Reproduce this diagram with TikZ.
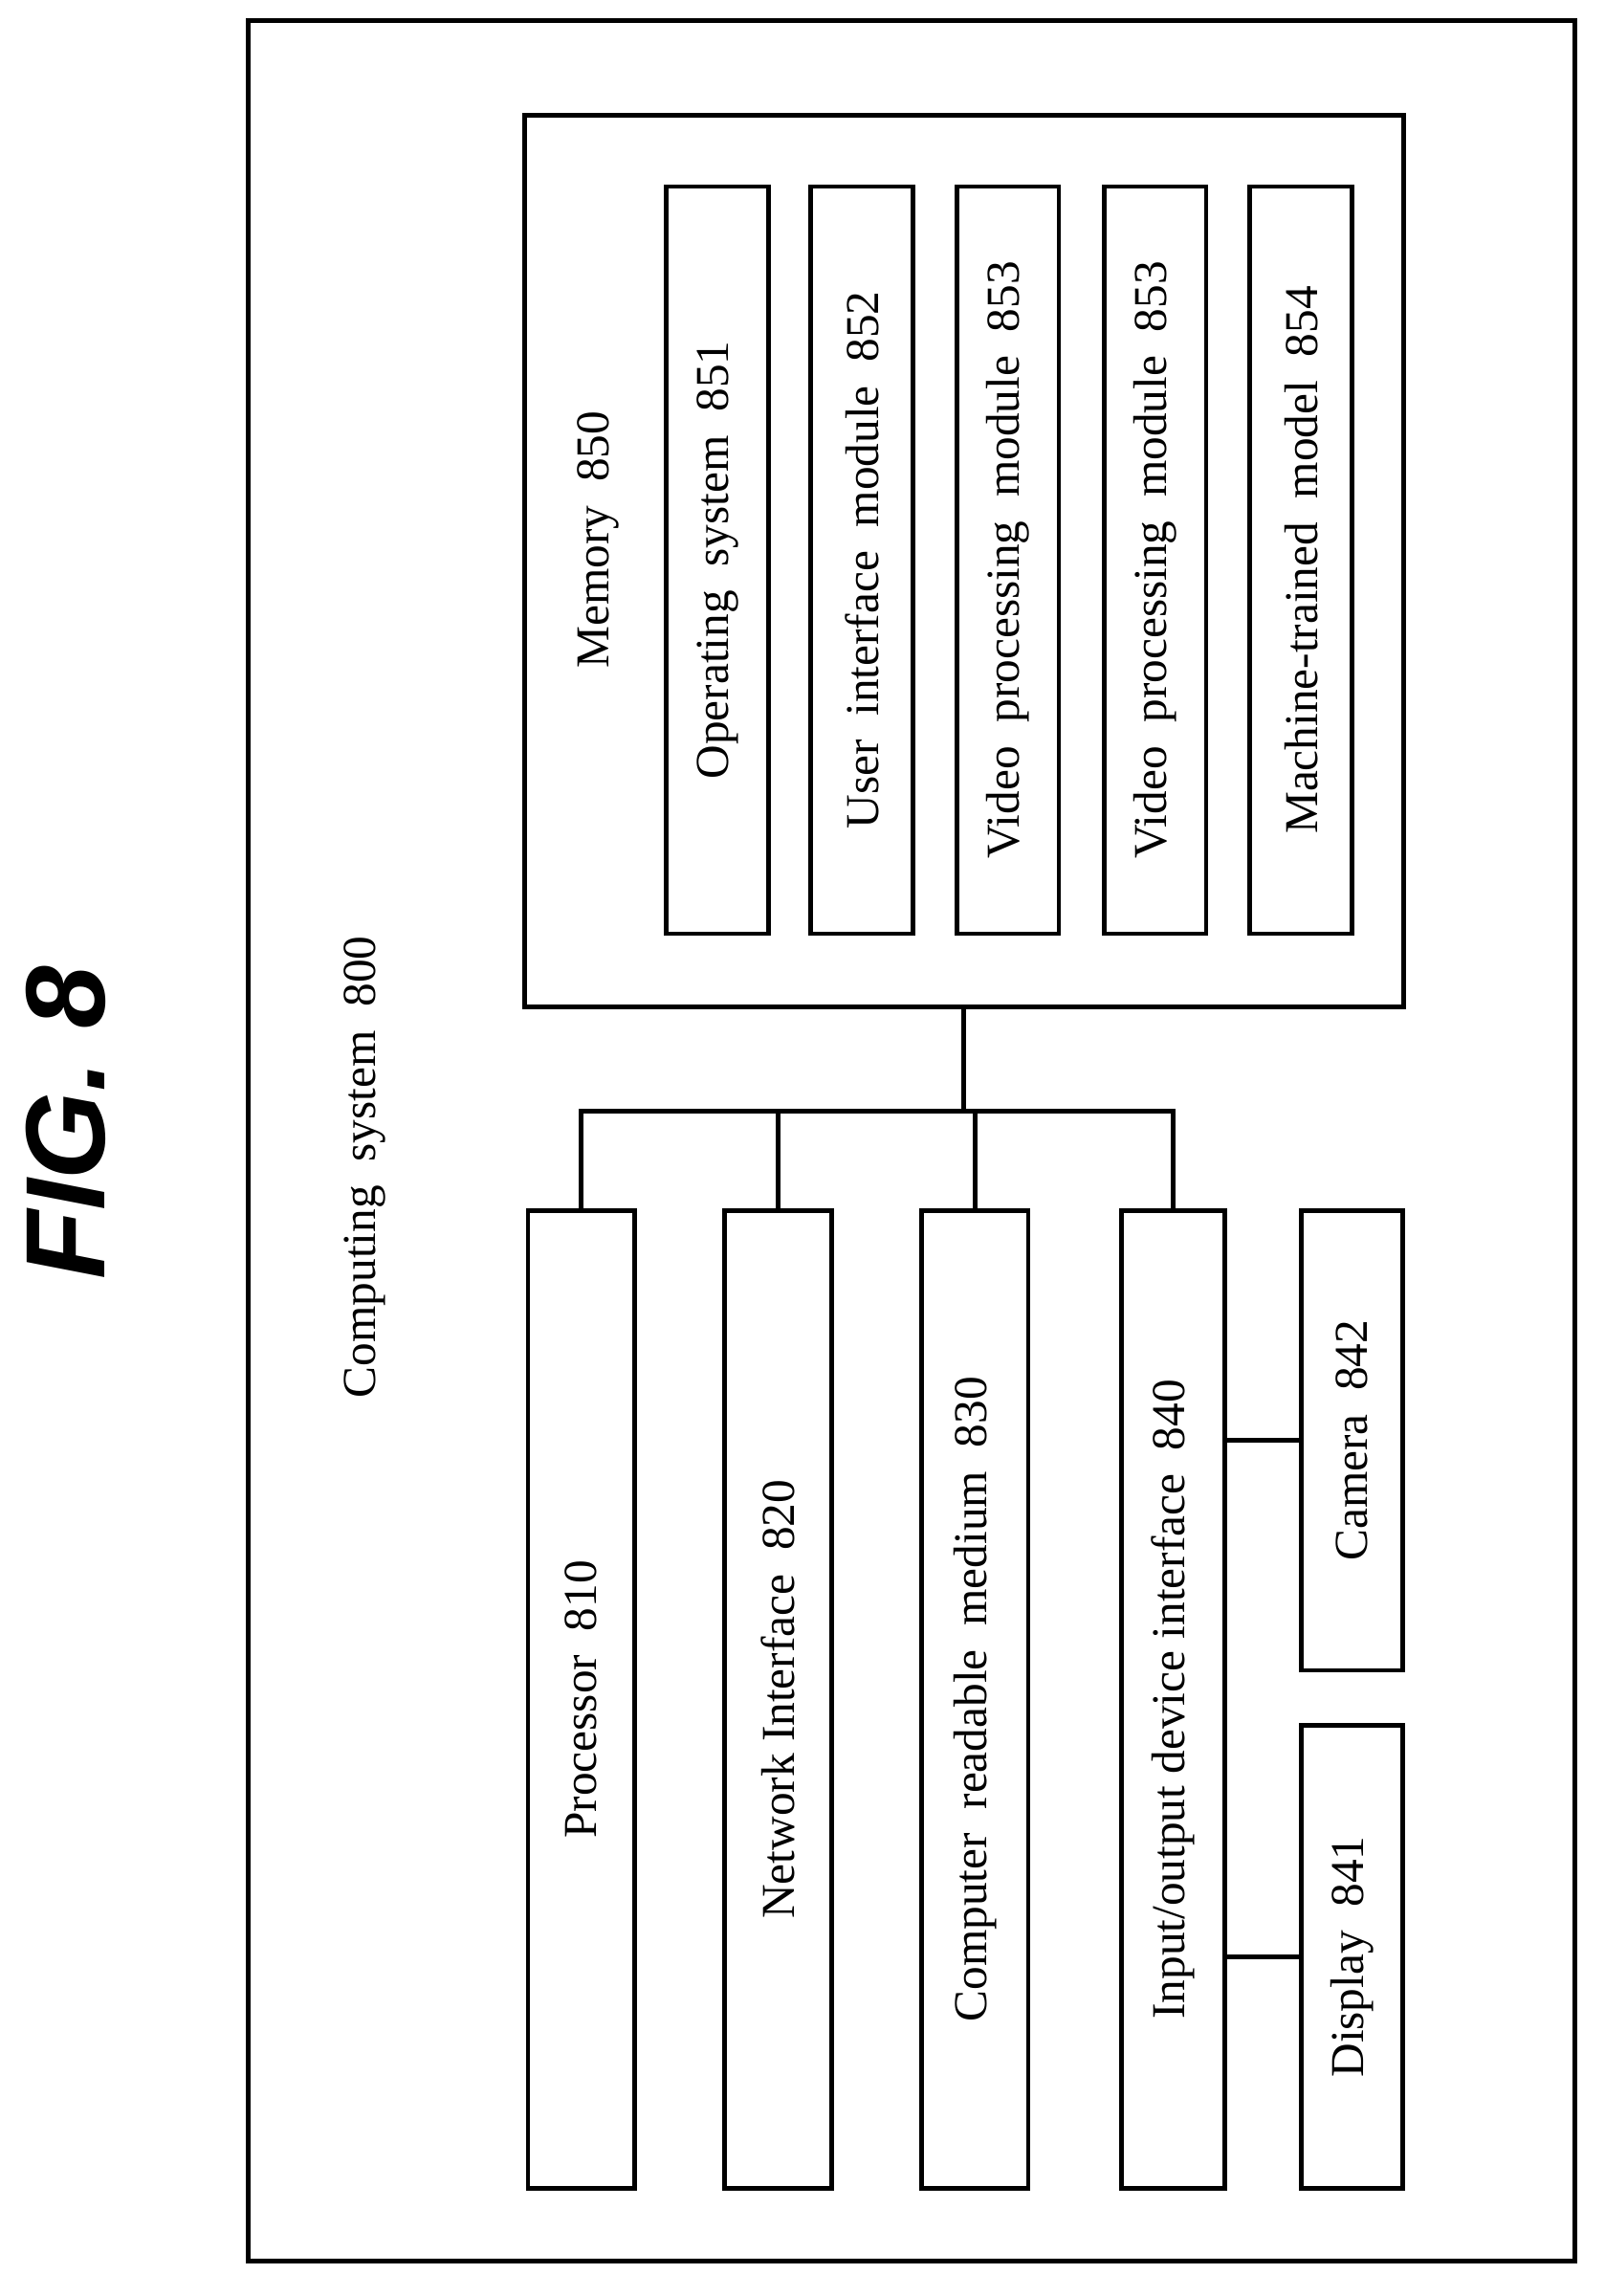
\documentclass[tikz,border=0pt]{standalone}
\usepackage{fontspec}
\setmainfont{Liberation Serif}
\setsansfont{Liberation Sans}
\begin{document}
\begin{tikzpicture}[x=0.01cm,y=-0.01cm,
  box/.style={draw,line width=0.9pt,inner sep=0},
  lbl/.style={rotate=90,font=\fontsize{9.2}{11}\selectfont},
  ln/.style={line width=0.9pt}]
\useasboundingbox (0,0) rectangle (1100,1574);
\draw[ln] (170,14) rectangle (1080,1550);
\node[rotate=90,font=\sffamily\bfseries\itshape\fontsize{22}{26}\selectfont] (fig) at (45,770) {FIG. 8};
\node[lbl] (cs) at (250,800) {Computing\ \ system\ \ 800};
% memory
\node[box,minimum width=6.02cm,minimum height=6.11cm] (mem) at (661,384.5) {};
\node[lbl] (memt) at (410,370) {Memory\ \ 850};
\foreach \x/\t [count=\i] in {492/Operating\ \ system\ \ 851,591/User\ \ interface\ \ module\ \ 852,691/Video\ \ processing\ \ module\ \ 853,792/Video\ \ processing\ \ module\ \ 853,892/Machine-trained\ \ model\ \ 854}{
  \node[box,minimum width=0.70cm,minimum height=5.12cm] (m\i) at (\x,384) {};
  \node[lbl] at (m\i) {\t};
}
% lower boxes
\node[box,minimum width=0.73cm,minimum height=6.70cm] (p) at (398.5,1165) {};
\node[lbl] at (p) {Processor\ \ 810};
\node[box,minimum width=0.73cm,minimum height=6.70cm] (n) at (533.5,1165) {};
\node[lbl] at (n) {Network Interface\ \ 820};
\node[box,minimum width=0.73cm,minimum height=6.70cm] (c) at (668.5,1165) {};
\node[lbl] at (c) {Computer\ \ readable\ \ medium\ \ 830};
\node[box,minimum width=0.71cm,minimum height=6.70cm] (io) at (804.5,1165) {};
\node[lbl] at (io) {Input/output device interface\ \ 840};
\node[box,minimum width=0.70cm,minimum height=3.15cm] (cam) at (927,987.5) {};
\node[lbl] at (cam) {Camera\ \ 842};
\node[box,minimum width=0.70cm,minimum height=3.17cm] (d) at (927,1341.5) {};
\node[lbl] at (d) {Display\ \ 841};
% bus
\coordinate (b) at (661,762);
\draw[ln] (mem.south) -- (b);
\draw[ln] (p.north) |- (b);
\draw[ln] (n.north) |- (b);
\draw[ln] (c.north) |- (b);
\draw[ln] (io.north) |- (b);
\draw[ln] (io.east |- cam.center) -- (cam.west);
\draw[ln] (io.east |- d.center) -- (d.west);
\end{tikzpicture}
\end{document}
